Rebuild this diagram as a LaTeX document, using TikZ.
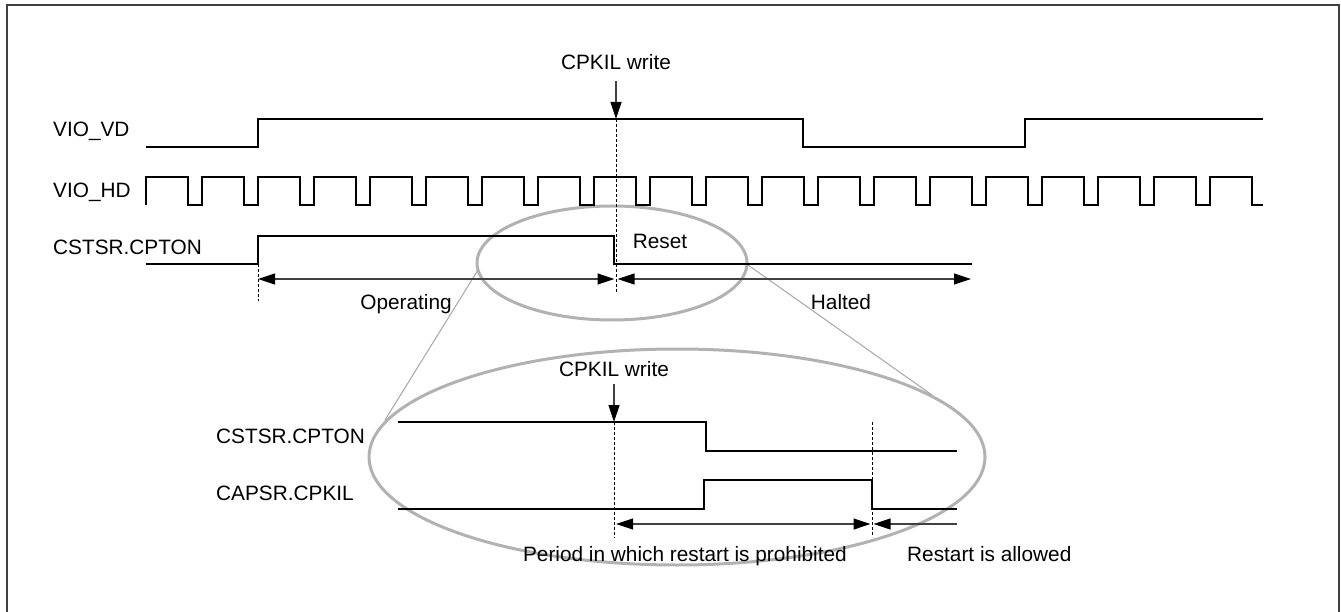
\documentclass[tikz,border=0pt]{standalone}
\usepackage{fontspec}
\setmainfont{Liberation Sans}
\usetikzlibrary{arrows.meta,positioning}

\tikzset{
    sig/.style={line width=1.8pt, black, line join=miter},
    guide/.style={line width=0.9pt, black, dash pattern=on 3pt off 2pt},
    dim/.style={line width=1.2pt, black!75},
    tipL/.style={{Triangle[length=17pt,width=11pt,color=black]}-},
    tipR/.style={-{Triangle[length=17pt,width=11pt,color=black]}},
    tipLR/.style={{Triangle[length=17pt,width=11pt,color=black]}-{Triangle[length=17pt,width=11pt,color=black]}},
    lens/.style={draw=black!30, line width=3pt},
    lensline/.style={draw=black!35, line width=1pt},
    lbl/.style={font=\fontsize{20.8}{24}\selectfont, inner sep=0pt}
}

\begin{document}
\begin{tikzpicture}[x=1pt,y=-1pt]
    \useasboundingbox (0,0) rectangle (1341,612);

    % Cadre
    \draw[black!75, line width=2pt] (6.5,614) -- (6.5,5) -- (1338.5,5) -- (1338.5,614);

    % Loupes
    \draw[lens] (612,263) ellipse [x radius=135, y radius=57];
    \draw[lens] (677,457) ellipse [x radius=308, y radius=108];
    \draw[lensline] (478,270) -- (385,420);
    \draw[lensline] (748,265) -- (932,395);

    % Labels
    \node[lbl, anchor=base west] (vd) at (53,137) {VIO\_VD};
    \node[lbl, anchor=base west] (hd) at (53,197.5) {VIO\_HD};
    \node[lbl, anchor=base west] (cpton) at (53,255) {CSTSR.CPTON};
    \node[lbl, anchor=base west] (cpton2) at (216,443.5) {CSTSR.CPTON};
    \node[lbl, anchor=base west] (cpkil) at (216,500) {CAPSR.CPKIL};
    \node[lbl, anchor=base] (wr1) at (616,69.5) {CPKIL write};
    \node[lbl, anchor=base] (wr2) at (614,376.5) {CPKIL write};
    \node[lbl, anchor=base] (reset) at (660,249) {Reset};
    \node[lbl, anchor=base] (oper) at (406,309) {Operating};
    \node[lbl, anchor=base] (halt) at (841,309) {Halted};
    \node[lbl, anchor=base east] (proh) at (847,561) {Period in which restart is prohibited};
    \node[lbl, anchor=base west] (allow) at (907,561) {Restart is allowed};

    % Signaux
    \draw[sig] (146,147) -- (258,147) -- (258,119) -- (803,119) -- (803,147)
        -- (1025,147) -- (1025,119) -- (1263,119);
    \draw[sig] (146,205) -- (146,177)
        \foreach \k in {0,...,18} {
            -- ({188+56*\k},177) -- ({188+56*\k},205)
            -- ({202+56*\k},205) -- ({202+56*\k},177)
        }
        -- (1252,177) -- (1252,205) -- (1263,205);
    \draw[sig] (146,264) -- (258,264) -- (258,236) -- (614,236) -- (614,264) -- (972,264);
    \draw[sig] (398,422) -- (706,422) -- (706,451) -- (957,451);
    \draw[sig] (398,509) -- (704,509) -- (704,480) -- (872,480) -- (872,509) -- (957,509);

    % Points
    \coordinate (s1) at (258,279);
    \coordinate (k1) at (614.5,279);
    \coordinate (k1b) at (617.5,279);
    \coordinate (h1) at (971,279);
    \coordinate (k2) at (616,524);
    \coordinate (r2) at (870.5,524);
    \coordinate (r2b) at (873.5,524);
    \coordinate (e2) at (957,524);
    \coordinate (w1a) at (616,81);
    \coordinate (w1b) at (616,119);
    \coordinate (w2a) at (614,384);
    \coordinate (w2b) at (614,422);

    % Reperes
    \draw[guide] (258,264) -- (258,301);
    \draw[guide] (w1b) -- (616,292);
    \draw[guide] (w2b) -- (614,538);
    \draw[guide] (872,422) -- (872,537);

    % Fleches
    \draw[dim, tipLR] (s1) -- (k1);
    \draw[dim, tipLR] (k1b) -- (h1);
    \draw[dim, tipLR] (k2) -- (r2);
    \draw[dim, tipL] (r2b) -- (e2);
    \draw[dim, tipR] (w1a) -- (w1b);
    \draw[dim, tipR] (w2a) -- (w2b);
\end{tikzpicture}
\end{document}
